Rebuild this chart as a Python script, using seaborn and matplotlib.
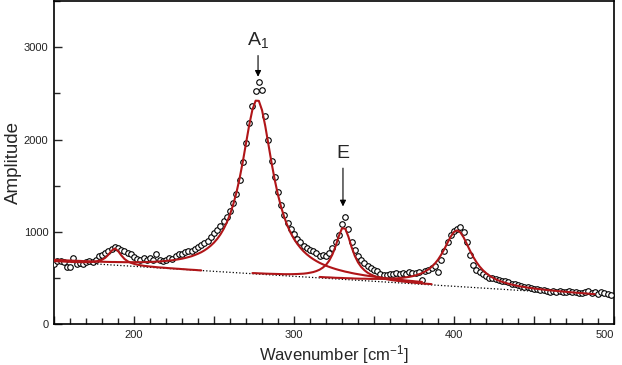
import matplotlib
matplotlib.use('Agg')
import matplotlib.pyplot as plt
from matplotlib.ticker import MultipleLocator, FuncFormatter
import numpy as np
import pandas as pd
import seaborn as sns

# measured spectrum (open circles), one point every 2 cm-1
wavenumber = np.arange(150, 500, 2)
amplitude = [
    650, 680, 688, 672, 622, 615, 715, 648, 660, 655,
    668, 680, 672, 690, 735, 745, 770, 790, 815, 832,
    828, 800, 790, 775, 755, 725, 710, 695, 715, 700,
    712, 695, 765, 690, 680, 700, 718, 708, 740, 755,
    762, 785, 795, 790, 815, 838, 862, 875, 905, 945,
    985, 1025, 1060, 1115, 1160, 1230, 1310, 1410, 1560, 1760,
    1960, 2180, 2360, 2530, 2620, 2540, 2260, 1990, 1770, 1590,
    1430, 1290, 1180, 1100, 1035, 975, 925, 885, 850, 825,
    805, 790, 770, 742, 748, 742, 770, 830, 890, 965,
    1085, 1165, 1035, 895, 800, 740, 695, 660, 635, 610,
    590, 575, 545, 528, 535, 548, 540, 556, 548, 552,
    545, 562, 555, 550, 568, 480, 572, 585, 605, 630,
    560, 690, 795, 885, 965, 1010, 1035, 1055, 1000, 885,
    745, 640, 585, 560, 545, 520, 505, 500, 490, 480,
    470, 462, 455, 440, 432, 425, 410, 402, 398, 390,
    385, 378, 372, 365, 360, 352, 358, 345, 355, 348,
    352, 362, 348, 350, 338, 342, 352, 358, 338, 345,
    330, 350, 335, 325, 318,
]

# linear background (dotted)
baseline_x = [150, 500]
baseline_y = [680, 302]

# fitted peak components (background + single peak), red
p1_x = np.arange(150, 243, 2)
p1_y = [
    683, 681, 680, 678, 676, 675, 673, 672, 672, 671,
    671, 672, 674, 679, 686, 698, 719, 753, 796, 819,
    792, 745, 706, 681, 664, 653, 644, 638, 632, 628,
    624, 621, 617, 614, 612, 609, 606, 604, 601, 599,
    596, 594, 591, 589, 587, 584, 582,
]

a1_x = np.arange(150, 381, 2)
a1_y = [
    697, 695, 694, 692, 690, 689, 687, 686, 685, 683,
    682, 681, 679, 678, 677, 676, 675, 674, 673, 673,
    672, 672, 671, 671, 671, 671, 671, 671, 672, 673,
    674, 675, 677, 679, 682, 685, 688, 692, 697, 703,
    709, 717, 726, 736, 749, 763, 779, 799, 823, 851,
    884, 924, 972, 1031, 1102, 1190, 1297, 1426, 1582, 1762,
    1961, 2159, 2325, 2421, 2419, 2318, 2148, 1946, 1743, 1558,
    1398, 1264, 1153, 1061, 985, 922, 870, 826, 788, 756,
    728, 704, 683, 664, 648, 633, 620, 608, 597, 587,
    578, 569, 562, 554, 547, 541, 535, 529, 524, 519,
    514, 509, 505, 500, 496, 492, 488, 484, 480, 477,
    473, 470, 467, 463, 460, 457,
]

e_x = np.arange(274, 387, 2)
e_y = [
    553, 552, 550, 549, 547, 546, 545, 544, 543, 542,
    541, 541, 541, 542, 543, 545, 547, 551, 557, 564,
    575, 590, 612, 642, 688, 754, 845, 954, 1038, 1035,
    947, 834, 739, 669, 619, 584, 557, 538, 523, 511,
    502, 493, 486, 480, 475, 470, 466, 462, 458, 454,
    451, 447, 444, 441, 438, 436, 433,
]

p4_x = np.arange(316, 489, 2)
p4_y = [
    511, 509, 507, 506, 504, 502, 501, 500, 498, 497,
    496, 494, 493, 492, 492, 491, 490, 490, 490, 490,
    490, 491, 492, 494, 496, 499, 502, 507, 512, 519,
    528, 539, 553, 571, 593, 620, 655, 698, 752, 814,
    883, 949, 999, 1016, 994, 941, 870, 797, 730, 673,
    625, 586, 554, 527, 506, 487, 472, 459, 448, 438,
    429, 421, 414, 407, 402, 396, 391, 386, 382, 378,
    374, 370, 366, 363, 360, 356, 353, 350, 347, 344,
    341, 338, 336, 333, 330, 327, 325,
]

sns.set_style("ticks")
plt.rcParams['font.family'] = ['Liberation Sans', 'DejaVu Sans']
plt.rcParams['mathtext.default'] = 'regular'
red = '#b01518'

fig, ax = plt.subplots(figsize=(6.22, 3.65), dpi=100)
fig.subplots_adjust(left=0.087, right=0.987, bottom=0.112, top=0.997)

ax.plot(baseline_x, baseline_y, linestyle=':', color='black', linewidth=0.9, zorder=2)

sns.scatterplot(x=wavenumber, y=amplitude, ax=ax, marker='o', s=16,
                color='white', edgecolor='black', linewidth=0.8, zorder=3)

for xs, ys in [(p1_x, p1_y), (a1_x, a1_y), (e_x, e_y), (p4_x, p4_y)]:
    df = pd.DataFrame({'x': xs, 'y': ys})
    sns.lineplot(data=df, x='x', y='y', ax=ax, color=red, linewidth=1.5,
                 sort=False, estimator=None, zorder=4)

# peak labels
ax.text(277.5, 3075, 'A$_1$', ha='center', va='center', fontsize=14)
ax.annotate('', xy=(277.5, 2680), xytext=(277.5, 2910),
            arrowprops=dict(arrowstyle='-|>', color='black', lw=0.8,
                            mutation_scale=9, shrinkA=0, shrinkB=0))
ax.text(330.6, 1850, 'E', ha='center', va='center', fontsize=14)
ax.annotate('', xy=(330.6, 1275), xytext=(330.6, 1690),
            arrowprops=dict(arrowstyle='-|>', color='black', lw=0.8,
                            mutation_scale=9, shrinkA=0, shrinkB=0))

ax.set_xlim(150, 500)
ax.set_ylim(0, 3500)
ax.xaxis.set_major_locator(MultipleLocator(50))
ax.xaxis.set_minor_locator(MultipleLocator(10))
ax.xaxis.set_major_formatter(FuncFormatter(lambda v, p: f'{v:.0f}' if v % 100 == 0 else ''))
ax.yaxis.set_major_locator(MultipleLocator(1000))
ax.yaxis.set_minor_locator(MultipleLocator(500))
ax.tick_params(which='both', direction='in', top=False, right=False, labelsize=8,
               labelcolor='#222222', width=1)
ax.tick_params(which='major', length=6)
ax.tick_params(axis='x', which='major', pad=4)
ax.tick_params(axis='y', which='major', pad=4)
ax.tick_params(which='minor', length=4)
for sp in ax.spines.values():
    sp.set_linewidth(1.2)
    sp.set_color('black')

ax.set_xlabel('Wavenumber [cm$^{-1}$]', fontsize=12)
ax.set_ylabel('Amplitude', fontsize=13.5)
ax.xaxis.set_label_coords(0.5, -0.06)
ax.yaxis.set_label_coords(-0.058, 0.5)

# last x label sits flush against the right edge of the figure
fig.canvas.draw()
for lbl in ax.get_xticklabels():
    if lbl.get_text() == '500':
        lbl.set_horizontalalignment('right')

plt.savefig('out.png', dpi=100)
